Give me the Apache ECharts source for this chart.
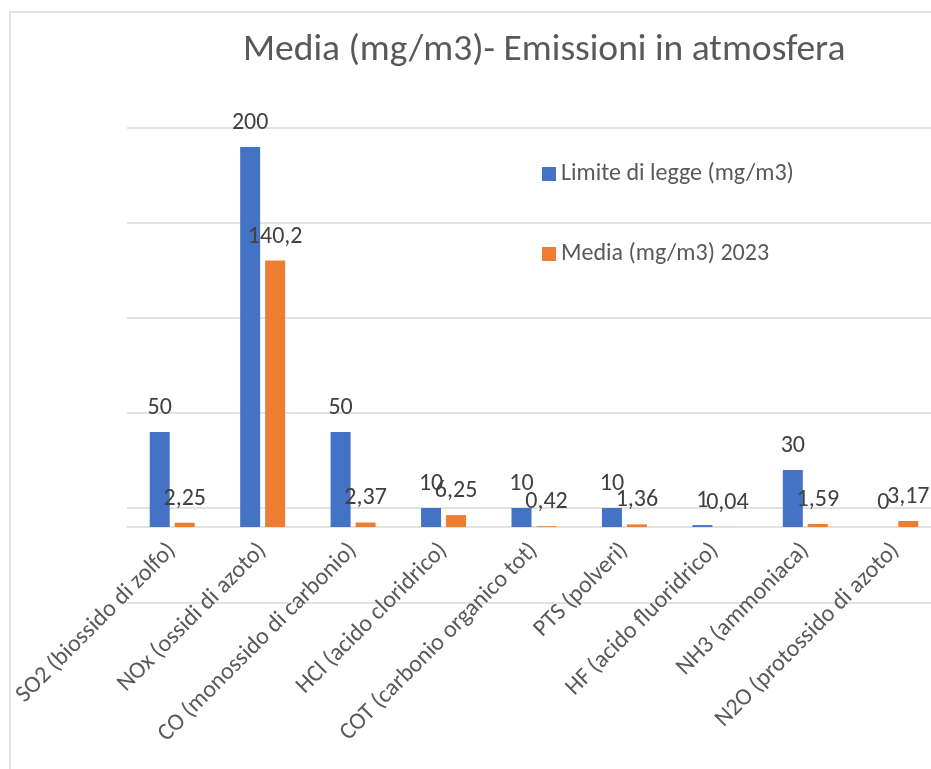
<!DOCTYPE html>
<html><head><meta charset="utf-8">
<script src="https://cdn.jsdelivr.net/npm/echarts@6/dist/echarts.min.js"></script>
<style>html,body{margin:0;padding:0;background:#fff}#c{width:931px;height:769px}</style>
</head><body><div id="c"></div>
<script>
const categories = ['SO2 (biossido di zolfo)','NOx (ossidi di azoto)','CO (monossido di carbonio)','HCl (acido cloridrico)','COT (carbonio organico tot)','PTS (polveri)','HF (acido fluoridrico)','NH3 (ammoniaca)','N2O (protossido di azoto)'];
const limite = [50,200,50,10,10,10,1,30,0];
const media2023 = [2.25,140.2,2.37,6.25,0.42,1.36,0.04,1.59,3.17];
const seriesNames = ['Limite di legge (mg/m3)','Media (mg/m3) 2023'];
const titleText = 'Media (mg/m3)- Emissioni in atmosfera';

const FONT = 'Carlito, Lato, sans-serif';
const fmt = p => String(p.value).replace('.', ',');

const chart = echarts.init(document.getElementById('c'));
chart.setOption({
  animation: false,
  backgroundColor: '#fff',
  textStyle: { fontFamily: FONT },
  title: { text: titleText, left: 243, top: 32, padding: 0, textStyle: { fontFamily: FONT, fontWeight: 'normal', fontSize: 37.5, color: '#595959' } },
  legend: { orient: 'vertical', left: 542, top: 162, itemGap: 56, itemWidth: 14, itemHeight: 14, icon: 'rect', padding: 0,
    textStyle: { fontFamily: FONT, fontSize: 24, color: '#595959', padding: [0,0,0,0] } },
  grid: { left: 127, right: -10, top: 128, bottom: 166, outerBoundsMode: 'none', containLabel: false },
  xAxis: { type: 'category', data: categories,
    axisLine: { onZero: true, lineStyle: { color: '#d9d9d9', width: 1.5 } },
    axisTick: { show: false },
    axisLabel: { rotate: 45, interval: 0, margin: -56, fontSize: 24, color: '#595959', fontFamily: FONT } },
  yAxis: { type: 'value', min: -40, max: 210, interval: 50,
    axisLabel: { show: false }, axisLine: { show: false }, axisTick: { show: false },
    splitLine: { lineStyle: { color: '#d9d9d9', width: 1.5 } } },
  series: [
    { name: seriesNames[0], type: 'bar', data: limite, barWidth: 20, barGap: '25%', itemStyle: { color: '#4472C4' },
      label: { show: true, position: 'top', distance: 12, formatter: fmt, fontSize: 24, color: '#404040', fontFamily: FONT } },
    { name: seriesNames[1], type: 'bar', data: media2023, barWidth: 20, itemStyle: { color: '#ED7D31' },
      label: { show: true, position: 'top', distance: 12, formatter: fmt, fontSize: 24, color: '#404040', fontFamily: FONT } }
  ],
  graphic: [
    { type: 'rect', shape: { x: 10, y: 12, width: 1000, height: 1000 }, style: { fill: 'none', stroke: '#d9d9d9', lineWidth: 1.5 }, silent: true, z: -1 }
  ]
});
</script></body></html>
